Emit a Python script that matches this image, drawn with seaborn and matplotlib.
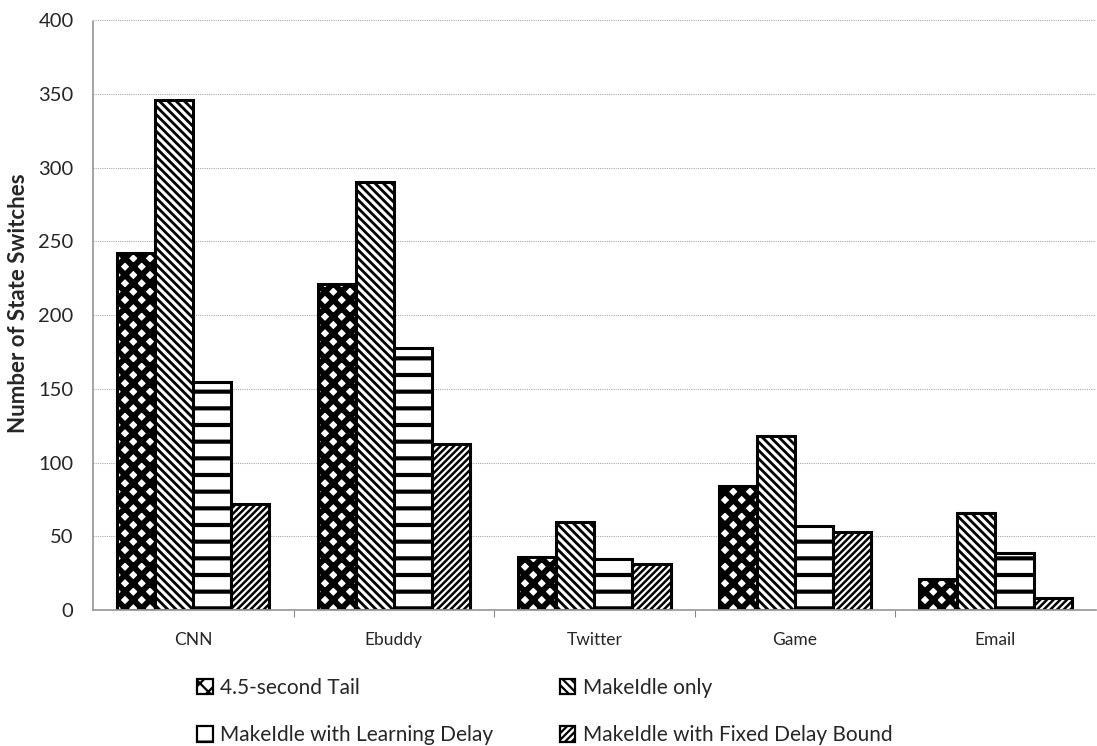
import matplotlib
matplotlib.use("Agg")
import matplotlib.pyplot as plt
from matplotlib.patches import Patch
import numpy as np
import pandas as pd
import seaborn as sns

# Application categories and series values (number of state switches)
apps = ["CNN", "Ebuddy", "Twitter", "Game", "Email"]
series = ["4.5-second Tail", "MakeIdle only",
          "MakeIdle with Learning Delay", "MakeIdle with Fixed Delay Bound"]
tail_45 = [242, 221, 36, 84, 21]
makeidle_only = [346, 290, 60, 118, 66]
learning_delay = [155, 178, 35, 57, 39]
fixed_bound = [72, 113, 31, 53, 8]
y_ticks = [0, 50, 100, 150, 200, 250, 300, 350, 400]

values = [tail_45, makeidle_only, learning_delay, fixed_bound]
df = pd.DataFrame({
    "app": [a for _ in series for a in apps],
    "series": [s for s in series for _ in apps],
    "value": [v for vals in values for v in vals],
})

sns.set_theme(style="white")
plt.rcParams["font.family"] = ["Lato", "DejaVu Sans"]
plt.rcParams["hatch.linewidth"] = 1.6

fig = plt.figure(figsize=(10.97, 7.46), dpi=100)
ax = fig.add_axes([0.0848, 0.182, 0.914, 0.791])

sns.barplot(data=df, x="app", y="value", hue="series", order=apps,
            hue_order=series, palette=["white"] * 4, width=0.76,
            edgecolor="black", linewidth=2.2, saturation=1,
            legend=False, ax=ax)

hatches = ["xx", "\\\\\\\\", "-", "/////"]
hatch_lw = [4.2, 2.0, 3.0, 1.8]
for cont, h, hl in zip(ax.containers, hatches, hatch_lw):
    for p in cont:
        p.set_hatch(h)
        if hasattr(p, "set_hatch_linewidth"):
            p.set_hatch_linewidth(hl)

ax.set_ylim(0, 400)
ax.set_xlim(-0.5, len(apps) - 0.5)
ax.set_yticks(y_ticks)
ax.set_yticklabels([str(t) for t in y_ticks], fontsize=14.5)
ax.tick_params(axis="y", length=0, pad=14)
ax.set_xticks(range(len(apps)))
ax.set_xticklabels(apps, fontsize=12.5)
ax.tick_params(axis="x", which="major", length=0, pad=16)
ax.set_xticks(np.arange(0.5, len(apps) - 0.5, 1), minor=True)
ax.tick_params(axis="x", which="minor", length=5, color="#888888", width=0.8,
               direction="out", bottom=True)

ax.yaxis.grid(True, linestyle=(0, (1, 1)), color="#aaaaaa", linewidth=0.8)
ax.set_axisbelow(True)
for side in ["top", "right"]:
    ax.spines[side].set_visible(False)
ax.spines["left"].set_color("#999999")
ax.spines["left"].set_linestyle((0, (1, 1)))
ax.spines["bottom"].set_color("#999999")
ax.set_xlabel("")
ax.set_ylabel("Number of State Switches", fontsize=16, fontweight="bold",
              labelpad=10)
ax.yaxis.set_label_coords(-0.064, 0.52)

handles = []
for s, h, hl in zip(series, hatches, hatch_lw):
    p = Patch(facecolor="white", edgecolor="black", hatch=h, linewidth=1.6, label=s)
    if hasattr(p, "set_hatch_linewidth"):
        p.set_hatch_linewidth(hl)
    handles.append(p)

# two columns filled row by row
order = [0, 2, 1, 3]
fig.legend(handles=[handles[i] for i in order], ncol=2, loc="upper left",
           bbox_to_anchor=(0.1796, 0.091), frameon=False, fontsize=15,
           handlelength=0.75, handleheight=0.75, handletextpad=0.35,
           columnspacing=3.2, labelspacing=1.3, borderpad=0,
           borderaxespad=0)

fig.savefig("out.png", dpi=100)
